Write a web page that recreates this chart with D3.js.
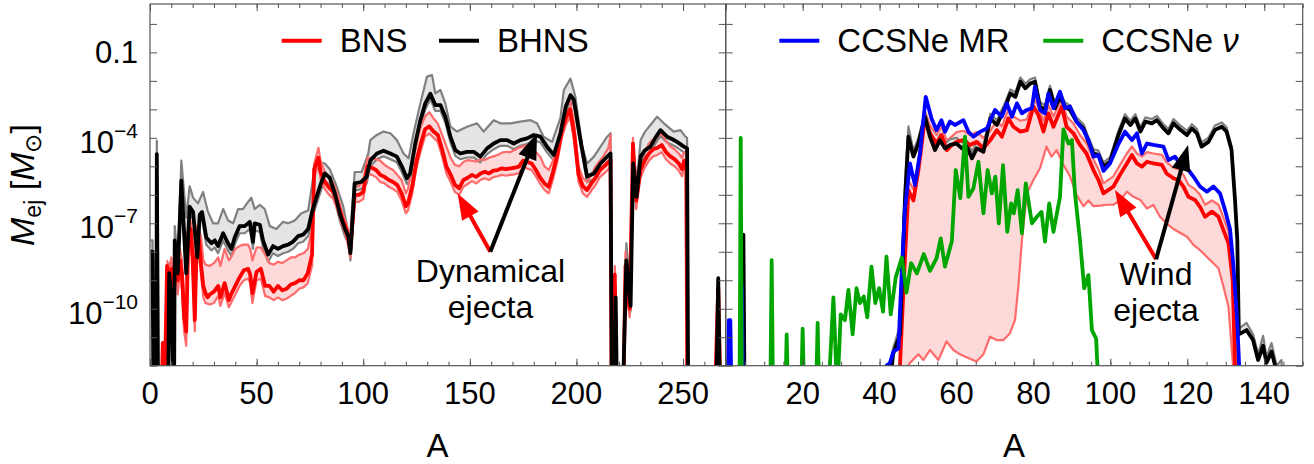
<!DOCTYPE html>
<html>
<head>
<meta charset="utf-8">
<script src="https://cdn.jsdelivr.net/npm/d3@7"></script>
<style>
body { margin: 0; background: #fff; }
text { font-family: "Liberation Sans", Arial, sans-serif; fill: #000; }
</style>
</head>
<body>
<script>
// values are [A, log10(M_ej / Msun)]; -13 means below the plot floor
const bnsMid = [[0.5,-13],[5.5,-13],[6,-11.2],[7,-12.4],[8,-8.5],[9,-9.2],[10,-8.6],[11,-9.8],[12,-8.0],[13,-9],[14,-8.3],[15,-8.8],[16,-10.3],[17,-10.8],[18,-7.3],[19,-7.2],[20,-8.2],[21,-10.4],[22,-7.4],[23,-7.6],[24,-8.5],[25,-9.2],[26,-9.45],[27,-9.6],[28,-9.5],[30,-9.4],[32,-9.2],[33,-9.6],[35,-9.1],[37,-9.7],[38,-9.5],[40,-9.2],[42,-8.9],[44,-8.65],[46,-8.6],[47,-8.8],[48,-9.45],[50,-8.7],[52,-8.6],[54,-9.2],[56,-9.2],[58,-9.4],[60,-9.2],[62,-9.35],[64,-9.3],[66,-9.15],[68,-9.1],[70,-9.0],[72,-9.0],[74,-8.75],[76,-8.1],[77,-5.1],[79,-4.7],[80,-5.2],[82,-5.55],[84,-5.75],[86,-5.9],[88,-6.3],[90,-6.8],[92,-7.2],[94,-7.9],[96,-6.0],[98,-6.0],[100,-5.9],[102,-5.0],[104,-5.05],[106,-5.13],[108,-5.3],[110,-5.37],[112,-5.48],[114,-5.55],[116,-5.66],[118,-5.95],[120,-6.4],[121,-6.3],[123,-5.7],[125,-4.8],[127,-4.2],[129,-3.7],[131,-3.6],[133,-3.78],[135,-3.9],[137,-4.4],[139,-5.0],[141,-5.3],[143,-5.65],[145,-5.77],[147,-5.48],[149,-5.4],[151,-5.3],[153,-5.37],[155,-5.25],[157,-5.19],[159,-5.25],[161,-5.15],[163,-5.13],[165,-5.07],[167,-5.1],[169,-5.07],[171,-5.05],[173,-5.01],[175,-4.8],[177,-4.85],[179,-4.9],[181,-5.13],[183,-5.4],[185,-5.6],[187,-5.72],[189,-5.2],[191,-4.6],[193,-3.8],[195,-3.3],[197,-3.0],[199,-3.9],[201,-5.3],[203,-5.7],[205,-5.83],[207,-5.6],[209,-5.4],[211,-5.13],[213,-5.0],[215,-4.85],[216,-4.78],[216.5,-13],[217.5,-13],[218,-8.8],[218.5,-13],[222,-13],[223,-8.5],[224,-9.5],[225,-10.0],[226.5,-4.2],[228,-6.2],[230,-5.13],[232,-4.8],[234,-4.55],[236,-4.4],[238,-4.35],[240,-4.25],[242,-4.5],[244,-4.65],[246,-4.75],[248,-4.9],[249.5,-5.1],[250.5,-4.8],[251.5,-4.9],[252,-13],[265,-13],[266.5,-9.2],[267.5,-13]];
const bnsHi = [[8,-8.3],[9,-8.7],[10,-8.2],[11,-9.0],[12,-7.8],[13,-8.5],[14,-7.9],[15,-8.3],[16,-9.5],[17,-10.0],[18,-7.0],[19,-6.9],[20,-7.5],[21,-9.2],[22,-7.1],[23,-7.2],[24,-7.5],[25,-8.3],[26,-8.45],[28,-8.5],[30,-8.4],[32,-8.2],[33,-8.5],[35,-7.9],[37,-8.3],[38,-8.2],[40,-7.9],[42,-7.8],[44,-7.75],[46,-7.75],[47,-7.9],[48,-8.3],[50,-7.85],[52,-7.85],[54,-8.1],[56,-8.4],[58,-8.45],[60,-8.35],[62,-8.4],[64,-8.3],[66,-8.2],[68,-8.2],[70,-8.1],[72,-8.05],[74,-7.9],[76,-7.2],[77,-4.9],[79,-4.35],[80,-4.8],[82,-5.2],[84,-5.4],[86,-5.6],[88,-6.0],[90,-6.6],[92,-7.0],[94,-7.6],[96,-5.7],[98,-5.7],[100,-5.5],[102,-4.7],[104,-4.7],[106,-4.75],[108,-4.8],[110,-4.95],[112,-5.05],[114,-5.13],[116,-5.3],[118,-5.48],[120,-5.95],[121,-5.8],[123,-4.9],[125,-4.2],[127,-3.6],[129,-3.25],[131,-3.1],[133,-3.32],[135,-3.5],[137,-3.9],[139,-4.3],[141,-4.7],[143,-4.95],[145,-5.0],[147,-4.85],[149,-4.78],[151,-4.8],[153,-4.84],[155,-4.75],[157,-4.78],[159,-4.7],[161,-4.65],[163,-4.6],[165,-4.52],[167,-4.49],[169,-4.5],[171,-4.43],[173,-4.35],[175,-4.3],[177,-4.25],[179,-4.35],[181,-4.5],[183,-4.66],[185,-5.0],[187,-5.13],[189,-4.8],[191,-4.2],[193,-3.5],[195,-2.95],[197,-2.7],[199,-3.5],[201,-5.0],[203,-5.4],[205,-5.55],[207,-5.3],[209,-5.0],[211,-4.8],[213,-4.6],[215,-4.35],[216,-3.9],[216.5,-13],[217.5,-13],[218,-8.5],[218.5,-13],[222,-13],[223,-8.0],[224,-9.2],[225,-9.7],[226.5,-4.0],[228,-5.9],[230,-4.8],[232,-4.5],[234,-4.2],[236,-4.05],[238,-3.95],[240,-3.85],[242,-4.1],[244,-4.3],[246,-4.4],[248,-4.55],[249.5,-4.7],[250.5,-4.5],[251.5,-4.5],[252,-13]];
const bnsLo = [[8,-8.9],[9,-9.8],[10,-9.1],[11,-10.2],[12,-8.4],[13,-9.5],[14,-8.7],[15,-9.3],[16,-10.8],[17,-11.3],[18,-7.8],[19,-7.6],[20,-8.6],[21,-10.8],[22,-7.8],[23,-8.0],[24,-8.9],[25,-9.6],[26,-9.8],[28,-9.85],[30,-9.8],[32,-9.55],[33,-9.9],[35,-9.45],[37,-9.95],[38,-9.8],[40,-9.5],[42,-9.2],[44,-9.0],[46,-8.95],[47,-9.1],[48,-9.8],[50,-9.0],[52,-8.95],[54,-9.55],[56,-9.6],[58,-9.7],[60,-9.6],[62,-9.7],[64,-9.65],[66,-9.55],[68,-9.45],[70,-9.3],[72,-9.25],[74,-9.1],[76,-8.5],[77,-5.4],[79,-4.95],[80,-5.45],[82,-5.8],[84,-6.0],[86,-6.15],[88,-6.55],[90,-7.05],[92,-7.45],[94,-8.2],[96,-6.25],[98,-6.25],[100,-6.15],[102,-5.25],[104,-5.3],[106,-5.38],[108,-5.55],[110,-5.6],[112,-5.72],[114,-5.8],[116,-5.9],[118,-6.2],[120,-6.65],[121,-6.55],[123,-5.95],[125,-5.05],[127,-4.45],[129,-3.95],[131,-3.85],[133,-4.0],[135,-4.15],[137,-4.65],[139,-5.25],[141,-5.55],[143,-5.9],[145,-6.0],[147,-5.72],[149,-5.62],[151,-5.52],[153,-5.6],[155,-5.48],[157,-5.42],[159,-5.48],[161,-5.38],[163,-5.35],[165,-5.3],[167,-5.33],[169,-5.3],[171,-5.28],[173,-5.24],[175,-5.02],[177,-5.08],[179,-5.13],[181,-5.36],[183,-5.62],[185,-5.83],[187,-5.95],[189,-5.45],[191,-4.85],[193,-4.05],[195,-3.55],[197,-3.25],[199,-4.15],[201,-5.55],[203,-5.95],[205,-6.07],[207,-5.85],[209,-5.65],[211,-5.38],[213,-5.25],[215,-5.1],[216,-5.0],[216.5,-13],[217.5,-13],[218,-9.1],[218.5,-13],[222,-13],[223,-8.8],[224,-9.8],[225,-10.3],[226.5,-4.5],[228,-6.5],[230,-5.4],[232,-5.05],[234,-4.8],[236,-4.65],[238,-4.6],[240,-4.5],[242,-4.75],[244,-4.9],[246,-5.0],[248,-5.15],[249.5,-5.35],[250.5,-5.05],[251.5,-5.15],[252,-13]];

const bhnsMid = [[0.3,-8.0],[1.2,-8.0],[1.6,-13],[3,-13],[3.2,-4.57],[3.8,-13],[8.5,-13],[9,-8.75],[10,-9.5],[11,-13],[11.3,-13],[11.6,-7.6],[13,-8.76],[14.7,-5.5],[17,-8.76],[18.6,-6.42],[20.2,-6.6],[22.2,-8.2],[23.3,-6.7],[24.4,-6.6],[26.4,-7.5],[28.8,-7.7],[30.4,-7.6],[31.9,-7.8],[34.3,-7.35],[36.6,-7.7],[38.2,-7.9],[39.7,-7.5],[42,-7.1],[44.4,-7.1],[46.8,-6.95],[48.3,-7.65],[49.1,-7.0],[51.5,-7.05],[53,-7.6],[55.4,-8.1],[57.7,-7.8],[60,-7.9],[62.4,-7.8],[64.8,-7.75],[67,-7.65],[69.5,-7.45],[71.8,-7.4],[74.2,-7.2],[76,-6.6],[78,-6.1],[80.4,-5.55],[82,-5.25],[84.3,-5.4],[86.7,-5.95],[89,-6.65],[91.4,-7.2],[93,-7.45],[94,-8.05],[96,-5.6],[99,-5.55],[101.6,-5.37],[103.3,-4.8],[106.4,-4.55],[109.5,-4.45],[112.7,-4.55],[115.8,-4.66],[118.1,-5.0],[120.5,-5.42],[122,-5.25],[124.4,-4.2],[126.8,-3.38],[129.1,-2.79],[131.5,-2.45],[133.8,-2.85],[136.2,-2.85],[138.5,-3.26],[140.9,-3.96],[143.2,-4.43],[145.5,-4.55],[148.7,-4.49],[151.8,-4.49],[154.9,-4.66],[158.1,-4.37],[161.2,-4.2],[164.3,-4.08],[167.5,-4.08],[170.6,-4.2],[173.7,-4.08],[176.8,-4.02],[180,-3.9],[183.1,-3.96],[186.2,-4.31],[189.4,-4.6],[192.5,-3.84],[195,-2.9],[197.2,-2.5],[198.8,-2.67],[201.9,-4.08],[205,-5.36],[208.2,-5.25],[211.3,-4.9],[214.4,-4.66],[216,-4.55],[216.6,-13],[217.8,-13],[218.4,-9.6],[219,-13],[221.8,-13],[223.4,-8.3],[225.4,-9.9],[226.6,-4.9],[228.2,-6.07],[230.1,-4.66],[232,-4.45],[234.7,-4.31],[237,-4.0],[239.4,-3.73],[242.5,-3.96],[245,-4.05],[247.2,-4.14],[250.4,-4.31],[251.9,-4.37],[252.4,-13],[265.6,-13],[266.5,-8.93],[267.3,-13]];
const bhnsHi = [[0.3,-7.6],[1.2,-7.6],[1.6,-13],[3,-13],[3.2,-4.1],[3.8,-13],[8.5,-13],[9,-8.4],[10,-9.1],[11,-13],[11.3,-13],[11.6,-7.1],[13,-8.3],[14.7,-4.8],[17,-6.8],[18.6,-5.7],[20.2,-6.1],[22.5,-6.3],[24.9,-5.9],[27.2,-6.6],[29.6,-7.0],[31.9,-7.0],[34.3,-6.5],[36.6,-6.9],[39,-7.0],[41.3,-6.5],[43.6,-6.5],[46,-6.25],[47.5,-6.1],[49.1,-6.5],[51.5,-6.35],[53.8,-6.5],[56.2,-7.1],[59.3,-7.2],[62.4,-6.95],[64.8,-7.0],[67.9,-6.9],[71,-6.65],[74.2,-6.55],[76.5,-5.4],[78.9,-4.85],[82,-4.9],[84.3,-5.1],[87.5,-5.7],[90.6,-6.4],[93.7,-7.6],[96,-5.2],[99.2,-5.2],[102.4,-4.55],[103.3,-4.08],[106.4,-3.9],[109.5,-3.78],[112.7,-3.84],[115.8,-4.08],[118.9,-4.55],[121.3,-4.72],[123.6,-3.84],[126.8,-2.79],[129.9,-1.85],[132.3,-1.8],[133.8,-2.44],[136.2,-2.32],[138.5,-2.79],[140.9,-3.61],[144,-3.78],[148.7,-3.61],[153.4,-3.49],[156.5,-3.78],[161.2,-3.38],[164.3,-3.49],[169,-3.49],[173.7,-3.43],[178.4,-3.38],[181.5,-3.49],[184.6,-3.96],[188.6,-4.14],[192.5,-3.3],[194.1,-2.32],[197.2,-1.92],[199.5,-2.56],[202.7,-4.31],[205,-4.9],[208.2,-4.66],[211.3,-4.31],[214.4,-3.96],[216,-3.84],[216.6,-13],[217.8,-13],[218.4,-9.2],[219,-13],[221.8,-13],[223.4,-7.7],[225.4,-9.5],[226.6,-4.25],[228.2,-5.6],[230.1,-4.08],[232,-3.8],[234.7,-3.55],[237.8,-3.26],[241,-3.49],[245.6,-3.78],[248.8,-3.73],[251.1,-3.96],[251.9,-4.0],[252.4,-13]];
const bhnsLo = [[0.3,-8.2],[1.2,-8.2],[1.6,-13],[3,-13],[3.2,-4.8],[3.8,-13],[8.5,-13],[9,-9.0],[10,-9.7],[11,-13],[11.3,-13],[11.6,-7.9],[13,-9.0],[14.7,-5.8],[17,-9.0],[18.6,-6.7],[20.2,-6.85],[22.2,-8.4],[23.3,-6.95],[24.4,-6.85],[26.4,-7.75],[28.8,-7.95],[30.4,-7.85],[31.9,-8.05],[34.3,-7.6],[36.6,-7.95],[38.2,-8.15],[39.7,-7.75],[42,-7.35],[44.4,-7.35],[46.8,-7.2],[48.3,-7.9],[49.1,-7.25],[51.5,-7.3],[53,-7.85],[55.4,-8.35],[57.7,-8.05],[60,-8.15],[62.4,-8.05],[64.8,-8.0],[67,-7.9],[69.5,-7.7],[71.8,-7.65],[74.2,-7.45],[76,-6.85],[78,-6.35],[80.4,-5.8],[82,-5.5],[84.3,-5.65],[86.7,-6.2],[89,-6.9],[91.4,-7.45],[93,-7.7],[94,-8.3],[96,-5.85],[99,-5.8],[101.6,-5.6],[103.3,-5.0],[106.4,-4.75],[109.5,-4.65],[112.7,-4.75],[115.8,-4.86],[118.1,-5.2],[120.5,-5.62],[122,-5.45],[124.4,-4.4],[126.8,-3.58],[129.1,-3.0],[131.5,-2.65],[133.8,-3.05],[136.2,-3.05],[138.5,-3.46],[140.9,-4.16],[143.2,-4.63],[145.5,-4.75],[148.7,-4.69],[151.8,-4.69],[154.9,-4.86],[158.1,-4.57],[161.2,-4.4],[164.3,-4.28],[167.5,-4.28],[170.6,-4.4],[173.7,-4.28],[176.8,-4.22],[180,-4.1],[183.1,-4.16],[186.2,-4.51],[189.4,-4.8],[192.5,-4.04],[195,-3.1],[197.2,-2.7],[198.8,-2.87],[201.9,-4.28],[205,-5.56],[208.2,-5.45],[211.3,-5.1],[214.4,-4.86],[216,-4.75],[216.6,-13],[217.8,-13],[218.4,-9.8],[219,-13],[221.8,-13],[223.4,-8.5],[225.4,-10.1],[226.6,-5.1],[228.2,-6.27],[230.1,-4.86],[232,-4.65],[234.7,-4.51],[237,-4.2],[239.4,-3.93],[242.5,-4.16],[245,-4.25],[247.2,-4.34],[250.4,-4.51],[251.9,-4.57],[252.4,-13]];

// right panel: wind ejecta (red band, black band), CCSNe MR (blue), CCSNe nu (green)
const windBns = [[4,-13],[4.3,-10],[4.6,-13],[45,-13],[45.3,-12],[46.5,-8.5],[47.5,-5.84],[48.8,-6.2],[50.1,-5.13],[51.8,-3.32],[53.1,-3.84],[54.8,-4.2],[56.1,-3.9],[57.5,-4.43],[58.8,-4.25],[60,-4.14],[61.8,-4.08],[63.5,-4.25],[65.3,-4.14],[67,-4.37],[68.8,-4.08],[70.5,-3.73],[71.8,-3.96],[73.5,-3.32],[74.8,-3.61],[76.6,-3.78],[78.3,-3.73],[80,-2.9],[81.3,-3.2],[82.6,-3.78],[83.9,-3.14],[85.2,-3.61],[87.4,-2.9],[88.6,-3.61],[90.4,-3.84],[92.1,-4.25],[93.8,-4.55],[95.6,-5.13],[96.9,-5.48],[98.2,-5.95],[100.8,-5.71],[102.5,-5.3],[104.3,-4.9],[105.6,-4.6],[106.9,-4.9],[108.2,-5.01],[109.5,-4.84],[111.2,-4.9],[113.4,-4.95],[114.6,-5.25],[116.4,-5.42],[117.7,-5.48],[119,-5.71],[120.3,-6.07],[122,-6.18],[123.3,-6.42],[124.6,-6.77],[126.4,-6.59],[128.1,-6.77],[129.4,-7.24],[130.7,-7.7],[131.8,-9],[132.5,-12.5],[132.8,-13]];
const windBnsHi = [[45.2,-13],[45.5,-11.5],[46.5,-8.0],[47.5,-5.5],[48.8,-5.8],[50.1,-4.8],[51.8,-3.05],[53.1,-3.55],[54.8,-3.9],[56.1,-3.6],[57.5,-4.1],[58.8,-3.95],[60,-3.8],[61.8,-3.75],[63.5,-3.9],[65.3,-3.8],[67,-4.0],[68.8,-3.75],[70.5,-3.4],[71.8,-3.6],[73.5,-3.0],[74.8,-3.25],[76.6,-3.4],[78.3,-3.35],[80,-2.6],[81.3,-2.9],[82.6,-3.4],[83.9,-2.85],[85.2,-3.25],[87.4,-2.6],[88.6,-3.25],[90.4,-3.5],[92.1,-3.9],[93.8,-4.2],[95.6,-4.75],[96.9,-5.1],[98.2,-5.6],[100.8,-5.35],[102.5,-4.95],[104.3,-4.55],[105.6,-4.3],[106.9,-4.55],[108.2,-4.65],[109.5,-4.5],[111.2,-4.55],[113.4,-4.6],[114.6,-4.85],[116.4,-5.05],[117.7,-5.1],[119,-5.3],[120.3,-5.65],[122,-5.8],[123.3,-6.0],[124.6,-6.35],[126.4,-6.2],[128.1,-6.35],[129.4,-6.8],[130.7,-7.3],[131.8,-8.4],[132.7,-11],[133.2,-13]];
const windBnsLo = [[45.2,-13],[46.5,-12.2],[47.9,-11.9],[50.1,-11.6],[51.4,-11.8],[53.1,-11.45],[55.3,-11.8],[57.4,-11.15],[59.2,-11.45],[60.9,-11.6],[62.6,-11.7],[65.2,-11.85],[67,-11.6],[68.7,-10.98],[70.4,-11.1],[72.2,-11.1],[73.9,-10.86],[75.2,-10.4],[76.1,-9.2],[77,-7.6],[78.3,-5.95],[80,-5.48],[81.7,-5.07],[83.4,-4.31],[84.7,-4.66],[86,-4.43],[87.8,-4.95],[89.5,-5.35],[91.2,-6.0],[93,-6.4],[94.3,-6.2],[95.6,-6.4],[97.4,-6.38],[99,-6.35],[100.8,-6.35],[102.5,-6.2],[104.3,-5.89],[106,-6.07],[107.8,-6.18],[109.5,-6.48],[111.2,-6.36],[112.9,-6.77],[114.6,-7.0],[116.4,-7.2],[119.9,-7.47],[121.6,-7.76],[123.3,-7.94],[125.9,-8.29],[128.1,-8.58],[129.4,-9.23],[130.7,-9.93],[132,-12.2],[132.5,-13]];
const windBhns = [[4.3,-13],[4.6,-7.4],[4.9,-13],[42.5,-13],[43.5,-11.6],[45.3,-10.9],[46.6,-6.2],[47.5,-3.96],[48.8,-4.66],[50.1,-4.2],[51.8,-3.26],[53.1,-3.96],[54.4,-4.43],[55.7,-4.08],[57,-4.37],[58.3,-4.25],[60,-4.2],[61.4,-4.37],[62.7,-4.31],[64,-4.72],[65.3,-4.37],[67,-4.49],[68.8,-3.32],[70.5,-3.55],[72.7,-2.9],[74,-2.44],[75.3,-2.56],[76.6,-2.03],[77.9,-2.26],[79.2,-2.09],[80.4,-2.03],[81.7,-2.9],[83,-3.02],[84.3,-2.32],[85.6,-2.96],[86.9,-2.56],[88.2,-2.9],[89.5,-3.02],[91.2,-3.43],[93,-3.67],[94.3,-4.14],[95.6,-4.55],[96.9,-4.6],[98.2,-5.01],[99.9,-4.84],[102.1,-3.9],[103.8,-3.32],[105.2,-3.55],[106.5,-3.32],[107.8,-3.78],[109.1,-3.43],[110.8,-3.49],[112.1,-3.38],[113.8,-3.67],[115.1,-3.84],[116.4,-3.49],[118.2,-3.72],[119.9,-3.9],[121.2,-3.67],[122.5,-3.84],[123.7,-4.31],[125.5,-4.14],[127.2,-3.72],[129,-3.61],[130.2,-3.78],[131.5,-4.43],[132.4,-6.18],[133,-7.6],[133.4,-10.9],[135.4,-10.75],[137.1,-11.1],[138.4,-11.8],[139.7,-11.3],[140.6,-11.9],[141.9,-11.5],[143.2,-12.2],[143.5,-13]];
const windBhnsHi = [[42.5,-13],[43.5,-11.4],[45.3,-10.6],[46.6,-5.6],[47.5,-3.6],[48.8,-4.45],[50.1,-4.0],[51.8,-3.1],[53.1,-3.75],[54.4,-4.25],[55.7,-3.9],[57,-4.2],[58.3,-4.05],[60,-4.0],[61.4,-4.15],[62.7,-4.1],[64,-4.5],[65.3,-4.15],[67,-4.3],[68.8,-3.15],[70.5,-3.38],[72.7,-2.75],[74,-2.3],[75.3,-2.4],[76.6,-1.88],[77.9,-2.1],[79.2,-1.94],[80.4,-1.88],[81.7,-2.75],[83,-2.85],[84.3,-2.17],[85.6,-2.8],[86.9,-2.4],[88.2,-2.75],[89.5,-2.87],[91.2,-3.28],[93,-3.52],[94.3,-3.98],[95.6,-4.4],[96.9,-4.45],[98.2,-4.86],[99.9,-4.69],[102.1,-3.75],[103.8,-3.17],[105.2,-3.4],[106.5,-3.17],[107.8,-3.63],[109.1,-3.28],[110.8,-3.34],[112.1,-3.23],[113.8,-3.52],[115.1,-3.69],[116.4,-3.34],[118.2,-3.57],[119.9,-3.75],[121.2,-3.52],[122.5,-3.69],[123.7,-4.16],[125.5,-3.99],[127.2,-3.57],[129,-3.46],[130.2,-3.63],[131.5,-4.28],[132.4,-6.0],[133,-7.4],[133.4,-10.7],[135.4,-10.5],[137.1,-10.9],[138.4,-11.6],[139.7,-10.95],[140.6,-11.7],[141.9,-11.2],[143.2,-12.0],[144.5,-11.8],[145,-13]];
const ccsnMR = [[0.5,-13],[0.8,-10.4],[1.2,-10.4],[1.5,-13],[4,-13],[4.2,-9.2],[4.5,-13],[41.5,-13],[41.8,-12],[42.7,-11.9],[43.6,-11.5],[44.9,-11.4],[45.7,-8.9],[46.6,-6.5],[47.9,-4.9],[49.2,-5.66],[50.5,-4.55],[52,-2.56],[53.5,-3.32],[54.8,-3.73],[56.1,-3.38],[57,-3.79],[58.3,-3.43],[59.6,-3.55],[61.8,-3.38],[63.1,-3.79],[64.4,-3.96],[66.1,-3.79],[67.9,-3.67],[70,-3.02],[71.8,-3.26],[73.1,-2.79],[74.4,-3.26],[75.7,-2.79],[77,-3.14],[78.3,-3.02],[79.6,-2.96],[80.4,-2.2],[81.7,-3.02],[83,-3.14],[83.9,-2.44],[85.2,-2.96],[86.9,-2.38],[88.2,-2.96],[89.5,-2.9],[91.2,-3.43],[93,-3.73],[94.3,-4.08],[95.6,-4.66],[96.9,-4.6],[98.2,-5.16],[99.9,-4.9],[102.1,-4.22],[103.8,-3.78],[105.6,-4.08],[106.9,-3.84],[108.2,-4.55],[109.5,-4.2],[111.2,-4.25],[113.8,-4.31],[115.1,-4.78],[116.8,-4.66],[118.6,-5.01],[120.3,-5.13],[121.6,-5.36],[123.3,-5.71],[125.1,-5.89],[126.8,-5.71],[128.5,-5.95],[129.8,-6.53],[131.1,-7.2],[132,-8.5],[133,-10.5],[133.8,-13]];
const ccsnNu = [[3.6,-13],[3.9,-4.0],[4.2,-13],[11.6,-13],[11.95,-8.29],[12.3,-13],[15.5,-13],[15.85,-10.9],[16.2,-13],[19.6,-13],[20,-10.7],[20.4,-13],[23.5,-13],[23.9,-10.5],[24.3,-13],[26.7,-13],[28,-9.6],[29,-13],[29.9,-10.2],[31,-10.4],[31.9,-9.34],[33,-10.9],[34,-9.28],[34.9,-9.8],[35.9,-9.57],[36.8,-10.3],[37.9,-8.52],[38.9,-9.8],[39.9,-9.28],[40.9,-10.1],[41.8,-8.17],[42.9,-10.2],[44.2,-8.9],[45.8,-8.2],[47,-9.43],[48.2,-8.4],[49.7,-8.76],[51.5,-8.08],[53.1,-8.67],[54.8,-8.23],[55.9,-7.53],[57,-8.52],[58.8,-7.62],[59.8,-5.13],[61,-6.12],[62.2,-3.96],[63.1,-6.07],[64.4,-5.77],[65.7,-4.84],[67,-6.65],[68.1,-5.13],[69.2,-5.95],[70.1,-5.36],[71,-7.0],[72.1,-4.96],[73.2,-7.3],[74.2,-6.3],[74.9,-6.65],[75.9,-5.84],[77,-7.35],[78,-5.6],[79.6,-7.0],[80.9,-6.77],[82.1,-6.6],[83,-7.64],[84.1,-6.3],[85.2,-7.3],[86.9,-6.07],[87.8,-3.7],[89.1,-4.2],[90,-4.08],[90.8,-5.95],[92.1,-7.59],[93.2,-9.28],[94.3,-8.82],[95.2,-10.75],[96.3,-11.05],[96.7,-12.2],[97,-13]];

const leftMajor = [0, 50, 100, 150, 200, 250];
const rightMajor = [20, 40, 60, 80, 100, 120, 140];
const yLabelExps = [-1, -4, -7, -10];

const W = 1314, H = 464;
const plotTop = 4, plotBottom = 365.7;
const svg = d3.select("body").append("svg").attr("width", W).attr("height", H);

const y = d3.scaleLog().domain([1e-12, 5]).range([plotBottom, plotTop]);
const xL = d3.scaleLinear().domain([0, 270]).range([150, 725.7]);
const xR = d3.scaleLinear().domain([0, 150]).range([725.7, 1302.7]);

const frameCol = "#555";
const redBand = "#ff6b6b", pinkFill = "#fdd9d9";
const grayLine = "#808080", grayFill = "#e4e4e4";

function panel(id, x) {
    const [x0, x1] = x.range();
    svg.append("clipPath").attr("id", id)
       .append("rect").attr("x", x0).attr("y", plotTop)
       .attr("width", x1 - x0).attr("height", plotBottom - plotTop);
    const g = svg.append("g").attr("clip-path", `url(#${id})`);
    const line = d3.line().x(d => x(d[0])).y(d => y(Math.pow(10, d[1])));
    return {
        band(hi, lo, fill) {
            g.append("path").attr("d", line(hi.concat(lo.slice().reverse())) + "Z")
             .attr("fill", fill).attr("stroke", "none");
        },
        line(data, color, w) {
            g.append("path").attr("d", line(data)).attr("fill", "none")
             .attr("stroke", color).attr("stroke-width", w)
             .attr("stroke-linejoin", "round");
        }
    };
}

// left panel: dynamical ejecta
const L = panel("clipL", xL);
L.band(bhnsHi, bhnsLo, grayFill);
L.band(bnsHi, bnsLo, pinkFill);
L.line(bhnsHi, grayLine, 2.2);
L.line(bhnsLo, grayLine, 2.2);
L.line(bnsHi, redBand, 2.2);
L.line(bnsLo, redBand, 2.2);
L.line(bnsMid, "#ff0000", 3.8);
L.line(bhnsMid, "#000", 3.8);

// right panel: wind ejecta and CCSNe
const R = panel("clipR", xR);
R.band(windBnsHi, windBnsLo, pinkFill);
R.band(windBhnsHi, windBhns, grayFill);
R.line(windBnsHi, redBand, 2.2);
R.line(windBnsLo, redBand, 2.2);
R.line(windBhnsHi, grayLine, 2.2);
R.line(windBns, "#ff0000", 3.8);
R.line(windBhns, "#000", 3.8);
R.line(ccsnMR, "#0000ff", 3.8);
R.line(ccsnNu, "#00a600", 3.8);

// frames and ticks
const decades = d3.range(-12, 1).map(e => Math.pow(10, e));
function ticks(axis, tx, ty, size) {
    const a = svg.append("g").attr("transform", `translate(${tx},${ty})`).call(axis.tickSize(size).tickFormat(""));
    a.select(".domain").remove();
    a.selectAll("line").attr("stroke", frameCol).attr("stroke-width", 1);
}
[[xL, 10, 50], [xR, 5, 20]].forEach(([x, minor, major]) => {
    const [x0, x1] = x.range();
    const d = x.domain();
    const minorVals = d3.range(0, d[1] + 0.01, minor);
    const majorVals = d3.range(0, d[1] + 0.01, major);
    ticks(d3.axisBottom(x).tickValues(minorVals), 0, plotBottom, -4);
    ticks(d3.axisBottom(x).tickValues(majorVals), 0, plotBottom, -7);
    ticks(d3.axisTop(x).tickValues(minorVals), 0, plotTop, -4);
    ticks(d3.axisTop(x).tickValues(majorVals), 0, plotTop, -7);
    ticks(d3.axisLeft(y).tickValues(decades), x0, 0, -7);
    ticks(d3.axisRight(y).tickValues(decades), x1, 0, -7);
    svg.append("rect").attr("x", x0).attr("y", plotTop)
       .attr("width", x1 - x0).attr("height", plotBottom - plotTop)
       .attr("fill", "none").attr("stroke", frameCol).attr("stroke-width", 1.2);
});

// tick labels
svg.append("g").selectAll("text").data(leftMajor).join("text")
   .attr("x", d => xL(d)).attr("y", 404).attr("text-anchor", "middle")
   .style("font-size", "31px").text(d => d);
svg.append("g").selectAll("text").data(rightMajor).join("text")
   .attr("x", d => xR(d)).attr("y", 404).attr("text-anchor", "middle")
   .style("font-size", "31px").text(d => d);
yLabelExps.forEach(e => {
    const yy = y(Math.pow(10, e));
    const t = svg.append("text").attr("x", 138).attr("text-anchor", "end").style("font-size", "31px");
    if (e === -1) {
        t.attr("y", yy + 11).text("0.1");
    } else {
        t.attr("y", yy + 15);
        t.append("tspan").text("10");
        t.append("tspan").attr("dy", -15).style("font-size", "21px").text("\u2212" + (-e));
    }
});

// axis titles
const yl = svg.append("text").attr("transform", "translate(34,185) rotate(-90)")
    .attr("text-anchor", "middle").style("font-size", "34px");
yl.append("tspan").attr("font-style", "italic").text("M");
yl.append("tspan").attr("dy", 7).style("font-size", "23px").text("ej");
yl.append("tspan").attr("dy", -7).text(" [");
yl.append("tspan").attr("font-style", "italic").text("M");
yl.append("tspan").attr("dy", 7).style("font-size", "23px").text("\u2299");
yl.append("tspan").attr("dy", -7).text("]");
[437.5, 1014].forEach(xx => {
    svg.append("text").attr("x", xx).attr("y", 457).attr("text-anchor", "middle")
       .style("font-size", "33px").text("A");
});

// legends
const legend = [
    {x: 281.7, color: "#ff0000", label: "BNS"},
    {x: 439, color: "#000", label: "BHNS"},
    {x: 779.3, color: "#0000ff", label: "CCSNe MR"},
    {x: 1043.3, color: "#00a600", label: "CCSNe", nu: true}
];
legend.forEach(l => {
    svg.append("line").attr("x1", l.x).attr("x2", l.x + 40).attr("y1", 40.7).attr("y2", 40.7)
       .attr("stroke", l.color).attr("stroke-width", 4);
    const t = svg.append("text").attr("x", l.x + 58).attr("y", 52).style("font-size", "33px").text(l.label);
    if (l.nu) t.append("tspan").attr("font-style", "italic").text(" \u03bd");
});

// annotations
function arrow(x0, y0, x1, y1, color) {
    const dx = x1 - x0, dy = y1 - y0, len = Math.hypot(dx, dy);
    const ux = dx / len, uy = dy / len, hl = 26, hw = 9.5;
    const bx = x1 - ux * hl, by = y1 - uy * hl;
    svg.append("line").attr("x1", x0).attr("y1", y0).attr("x2", bx + ux * 3).attr("y2", by + uy * 3)
       .attr("stroke", color).attr("stroke-width", 4);
    svg.append("path")
       .attr("d", `M${x1},${y1}L${bx - uy * hw},${by + ux * hw}L${bx + uy * hw},${by - ux * hw}Z`)
       .attr("fill", color);
}
const p = (x, a, lg) => [x(a), y(Math.pow(10, lg))];
let o = p(xL, 159.6, -8.0);
arrow(...o, ...p(xL, 144.3, -5.95), "#ff0000");
arrow(...o, ...p(xL, 181.5, -3.84), "#000");
o = p(xR, 111.9, -8.26);
arrow(...o, ...p(xR, 101.2, -5.83), "#ff0000");
arrow(...o, ...p(xR, 120.2, -4.25), "#000");

[["Dynamical", 490.5, 282], ["ejecta", 490.5, 318], ["Wind", 1156, 285], ["ejecta", 1156, 321]].forEach(([s, xx, yy]) => {
    svg.append("text").attr("x", xx).attr("y", yy).attr("text-anchor", "middle")
       .style("font-size", "32px").text(s);
});
</script>
</body>
</html>
